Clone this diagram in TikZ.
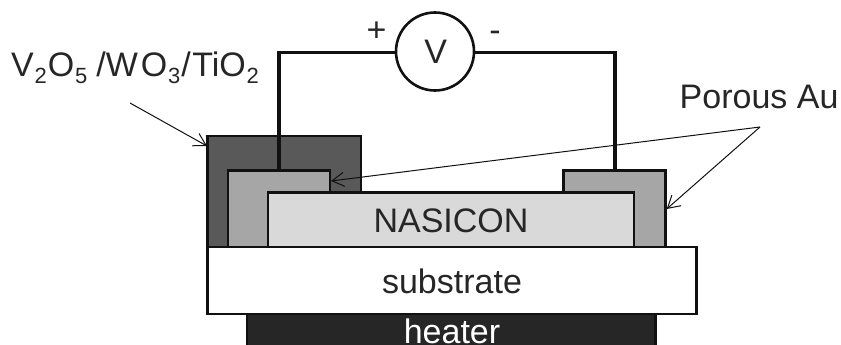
\documentclass[tikz,border=0pt]{standalone}
\usepackage{fontspec}
\setmainfont{Liberation Sans}
\usetikzlibrary{arrows.meta}
\definecolor{ink}{HTML}{262626}
\definecolor{edge}{HTML}{111111}
\newcommand{\subdigit}[1]{\kern0.8pt\raisebox{-6.5pt}{\fontsize{22pt}{24pt}\selectfont #1}\kern1pt}
\tikzset{
  layer/.style={draw=edge,line width=2.6pt,inner sep=0pt,outer sep=0pt,anchor=north west,rectangle,line join=miter},
  lbl/.style={text=ink,font=\fontsize{34pt}{36pt}\selectfont,inner sep=0pt,anchor=base},
  wire/.style={draw=edge,line width=3.8pt,line join=miter},
  pointer/.style={draw=edge,line width=1pt,-{Straight Barb[length=12pt,width=14pt,line width=1pt]}}
}
\begin{document}
\begin{tikzpicture}[x=1pt,y=-1pt]
\useasboundingbox (0,0) rectangle (841,345);
\clip (0,0) rectangle (841,345);
\node[layer,fill=black!65,minimum width=153.5pt,minimum height=111pt] (oxide) at (207.5,136) {};
\node[layer,fill=ink,minimum width=408.7pt,minimum height=40pt] (heater) at (247,314) {};
\node[layer,fill=black!35,minimum width=102pt,minimum height=76.5pt] (auL) at (228,170.5) {};
\node[layer,fill=black!35,minimum width=102pt,minimum height=76.5pt] (auR) at (563.5,170.5) {};
\node[layer,fill=black!15,minimum width=366pt,minimum height=54.5pt] (nasicon) at (268,192.5) {};
\node[layer,fill=white,minimum width=489.2pt,minimum height=67pt] (substrate) at (207.5,247) {};
\node[circle,draw=edge,line width=2.6pt,fill=white,inner sep=0pt,outer sep=0pt,minimum size=78pt] (meter) at (435,51.5) {};
\node[lbl] (vtext) at (435.7,64) {V};
\node[lbl] (plus) at (376.5,42) {+};
\node[lbl] (minus) at (495,42) {-};
\node[lbl,anchor=base west] (oxidelabel) at (11,77) {V\subdigit{2}O\subdigit{5}\kern8pt/W\kern3pt O\subdigit{3}/\kern1.5pt TiO\subdigit{2}};
\node[lbl,anchor=base west] (porous) at (679.5,109) {Porous Au};
\node[lbl] (ntext) at (451,232) {NASICON};
\node[lbl] (stext) at (452,293.5) {substrate};
\node[lbl,text=white] (htext) at (452,343) {heater};
\coordinate (wireL) at (279,52.5);
\coordinate (wireR) at (615,52.5);
\coordinate (oxfoot) at (130,103);
\coordinate (fork) at (760,127);
\draw[wire] (meter.west |- wireL) -- (wireL) -- (auL.north -| wireL);
\draw[wire] (meter.east |- wireR) -- (wireR) -- (auR.north -| wireR);
\draw[pointer] (oxfoot) -- (207,146);
\draw[pointer] (fork) -- (331,181);
\draw[pointer] (fork) -- (666.7,209);
\end{tikzpicture}
\end{document}
